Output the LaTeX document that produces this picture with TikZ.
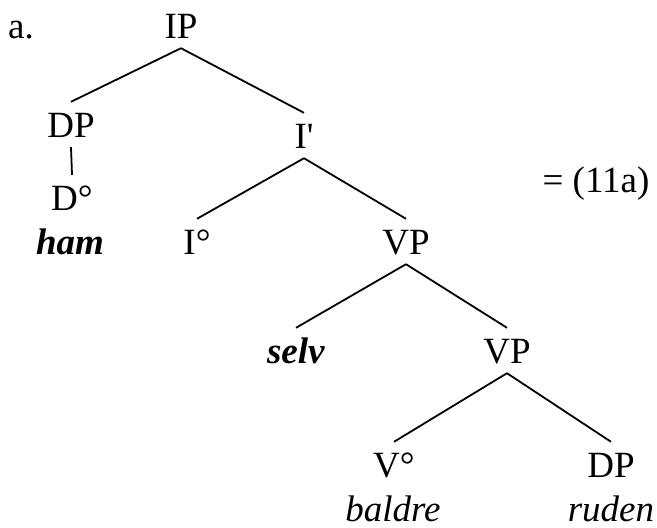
\documentclass[tikz,border=0pt]{standalone}
\usepackage{fontspec}
\setmainfont{Liberation Serif}
\begin{document}
\begin{tikzpicture}[x=1pt, y=-1pt,
	every node/.style={font=\fontsize{37}{42}\selectfont},
	cat/.style={anchor=base, inner xsep=1pt, inner ysep=10pt, text height=25pt, text depth=0pt},
	word/.style={anchor=base, inner sep=1pt, text depth=0pt},
	branch/.style={line width=1.8pt}]
	\useasboundingbox (0,0) rectangle (657,528);

	\node[word](exLabel) at (21,38){a.};
	\node[word](eqLabel) at (596,192){= (11a)};

	\node[cat](ipNode) at (181,38){IP};
	\node[cat](dpNode) at (71,137){DP};
	\node[cat](ibarNode) at (304,148){I\textquotesingle};
	\node[cat](dNode) at (72,210){D°};
	\node[cat](iNode) at (197,254){I°};
	\node[cat](vpNode) at (406,254){VP};
	\node[cat](selvNode) at (296,363){\textbf{\textit{selv}}};
	\node[cat](vpLowNode) at (507,363){VP};
	\node[cat](vNode) at (394,477){V°};
	\node[cat](dpObjNode) at (611,477){DP};

	\node[word](hamWord) at (70,254){\textbf{\textit{ham}}};
	\node[word](baldreWord) at (393,521){\textit{baldre}};
	\node[word](rudenWord) at (611,521){\textit{ruden}};

	\draw[branch] (ipNode.south) -- (dpNode.north);
	\draw[branch] (ipNode.south) -- (ibarNode.north);
	\draw[branch] (dpNode.south) -- (dNode.north);
	\draw[branch] (ibarNode.south) -- (iNode.north);
	\draw[branch] (ibarNode.south) -- (vpNode.north);
	\draw[branch] (vpNode.south) -- (selvNode.north);
	\draw[branch] (vpNode.south) -- (vpLowNode.north);
	\draw[branch] (vpLowNode.south) -- (vNode.north);
	\draw[branch] (vpLowNode.south) -- (dpObjNode.north);
\end{tikzpicture}
\end{document}
